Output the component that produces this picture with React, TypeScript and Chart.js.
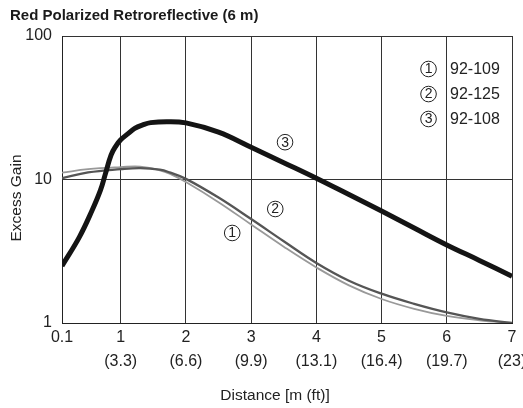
import React, { useEffect, useRef } from 'react';
import { Chart, registerables } from 'chart.js';

Chart.register(...registerables);

const FONT = '"Liberation Sans", Arial, Helvetica, sans-serif';

const chartTitle = 'Red Polarized Retroreflective (6 m)';
const yAxisTitle = 'Excess Gain';
const xAxisTitle = 'Distance [m (ft)]';

const xTickValues = [0.1, 1, 2, 3, 4, 5, 6, 7];
const xTickMeters = ['0.1', '1', '2', '3', '4', '5', '6', '7'];
const xTickFeet = ['', '(3.3)', '(6.6)', '(9.9)', '(13.1)', '(16.4)', '(19.7)', '(23)'];
const yTickValues = [1, 10, 100];

const seriesNames = ['92-109', '92-125', '92-108'];
const seriesNumbers = ['1', '2', '3'];

// 92-109 (light gray, ①)
const x109 = [0.1, 0.5, 1.0, 1.3, 1.6, 1.75, 2.0, 2.5, 3.0, 3.5, 4.0, 4.5, 5.0, 5.5, 6.0, 6.5, 7.0];
const y109 = [11.15, 11.8, 12.2, 12.3, 11.6, 11.0, 9.6, 6.95, 4.86, 3.4, 2.44, 1.83, 1.47, 1.256, 1.12, 1.045, 1.0];

// 92-125 (dark gray, ②)
const x125 = [0.1, 0.5, 1.0, 1.3, 1.6, 1.75, 2.0, 2.5, 3.0, 3.5, 4.0, 4.5, 5.0, 5.5, 6.0, 6.5, 7.0];
const y125 = [10.2, 11.2, 11.8, 12.0, 11.7, 11.2, 10.1, 7.48, 5.3, 3.71, 2.62, 1.97, 1.6, 1.36, 1.186, 1.069, 1.0];

// 92-108 (black, ③)
const x108 = [0.1, 0.366, 0.557, 0.69, 0.764, 0.852, 0.926, 1.0, 1.108, 1.215, 1.338, 1.46, 1.72, 2.0, 2.5, 3.0, 3.5, 4.0, 4.5, 5.0, 5.5, 6.0, 6.5, 7.0];
const y108 = [2.5, 3.97, 6.03, 8.43, 10.9, 14.8, 17.1, 18.9, 20.8, 22.7, 24.0, 24.9, 25.3, 24.8, 21.4, 16.8, 13.1, 10.2, 7.85, 6.03, 4.59, 3.5, 2.73, 2.12];

// annotation anchors in data units
const curveLabelX = [2.71, 3.37, 3.52];
const curveLabelY = [4.24, 6.23, 18.2];
const legendCircleX = 5.72;
const legendTextX = 6.05;
const legendY = [58.9, 39.4, 26.4];

const toPoints = (xs: number[], ys: number[]) => xs.map((x, i) => ({ x, y: ys[i] }));

const annotationPlugin = {
  id: 'annotations',
  afterDraw(chart: any) {
    const { ctx } = chart;
    const xs = chart.scales.x;
    const ys = chart.scales.y;
    ctx.save();
    // chart title
    ctx.fillStyle = '#1a1a1a';
    ctx.font = `bold 15px ${FONT}`;
    ctx.textAlign = 'left';
    ctx.textBaseline = 'alphabetic';
    ctx.fillText(chartTitle, 10, 19.5);

    // axis titles
    ctx.fillStyle = '#222';
    ctx.font = `15.5px ${FONT}`;
    ctx.textAlign = 'center';
    ctx.fillText(xAxisTitle, 275, 399.5);
    ctx.save();
    ctx.translate(20.5, 198);
    ctx.rotate(-Math.PI / 2);
    ctx.fillText(yAxisTitle, 0, 0);
    ctx.restore();

    const circled = (cx: number, cy: number, n: string) => {
      ctx.beginPath();
      ctx.arc(cx, cy, 7.8, 0, Math.PI * 2);
      ctx.lineWidth = 1;
      ctx.strokeStyle = '#222';
      ctx.stroke();
      ctx.font = `14px ${FONT}`;
      ctx.fillStyle = '#222';
      ctx.textAlign = 'center';
      ctx.textBaseline = 'middle';
      ctx.fillText(n, cx, cy + 0.5);
    };

    for (let i = 0; i < 3; i++) {
      circled(xs.getPixelForValue(curveLabelX[i]), ys.getPixelForValue(curveLabelY[i]), seriesNumbers[i]);
    }
    for (let i = 0; i < 3; i++) {
      const cy = ys.getPixelForValue(legendY[i]);
      circled(xs.getPixelForValue(legendCircleX), cy, seriesNumbers[i]);
      ctx.font = `16px ${FONT}`;
      ctx.fillStyle = '#222';
      ctx.textAlign = 'left';
      ctx.textBaseline = 'middle';
      ctx.fillText(seriesNames[i], xs.getPixelForValue(legendTextX), cy + 0.5);
    }
    ctx.restore();
  },
};

export default function App() {
  const canvasRef = useRef<HTMLCanvasElement | null>(null);

  useEffect(() => {
    document.body.style.margin = '0';
    const canvas = canvasRef.current;
    if (!canvas) return;
    const chart = new Chart(canvas, {
      type: 'line',
      data: {
        datasets: [
          {
            label: seriesNames[2],
            data: toPoints(x108, y108),
            borderColor: '#141414',
            borderWidth: 5,
            pointRadius: 0,
            tension: 0.4,
            fill: false,
          },
          {
            label: seriesNames[1],
            data: toPoints(x125, y125),
            borderColor: '#555555',
            borderWidth: 2.3,
            pointRadius: 0,
            tension: 0.4,
            fill: false,
          },
          {
            label: seriesNames[0],
            data: toPoints(x109, y109),
            borderColor: '#999999',
            borderWidth: 1.8,
            pointRadius: 0,
            tension: 0.4,
            fill: false,
          },
        ],
      },
      options: {
        animation: false,
        responsive: false,
        maintainAspectRatio: false,
        events: [],
        layout: { padding: { top: 36, right: 11, bottom: 0, left: 0 } },
        plugins: {
          legend: { display: false },
          tooltip: { enabled: false },
          title: { display: false },
        },
        scales: {
          x: {
            type: 'linear',
            min: 0.1,
            max: 7,
            afterBuildTicks: (s: any) => {
              s.ticks = xTickValues.map((v) => ({ value: v }));
            },
            afterFit: (s: any) => {
              s.height = 85;
              s.paddingLeft = 0;
              s.paddingRight = 0;
            },
            ticks: {
              autoSkip: false,
              maxRotation: 0,
              minRotation: 0,
              padding: 3,
              color: '#222',
              font: { family: FONT, size: 16, lineHeight: 1.5 },
              callback: (_v: any, i: number) =>
                xTickFeet[i] ? [xTickMeters[i], xTickFeet[i]] : xTickMeters[i],
            },
            grid: { color: '#333', lineWidth: 1, drawTicks: false },
            border: { color: '#222', width: 1 },
            title: { display: false },
          },
          y: {
            type: 'logarithmic',
            min: 1,
            max: 100,
            afterBuildTicks: (s: any) => {
              s.ticks = yTickValues.map((v) => ({ value: v }));
            },
            afterFit: (s: any) => {
              s.width = 62;
            },
            ticks: {
              padding: 10,
              color: '#222',
              font: { family: FONT, size: 16 },
              callback: (v: any) => String(v),
            },
            grid: { color: '#333', lineWidth: 1, drawTicks: false },
            border: { color: '#222', width: 1 },
            title: { display: false },
          },
        },
      },
      plugins: [annotationPlugin],
    } as any);
    return () => chart.destroy();
  }, []);

  return (
    <div style={{ width: 523, height: 408 }}>
      <canvas ref={canvasRef} width={523} height={408} style={{ width: 523, height: 408, display: 'block' }} />
    </div>
  );
}
